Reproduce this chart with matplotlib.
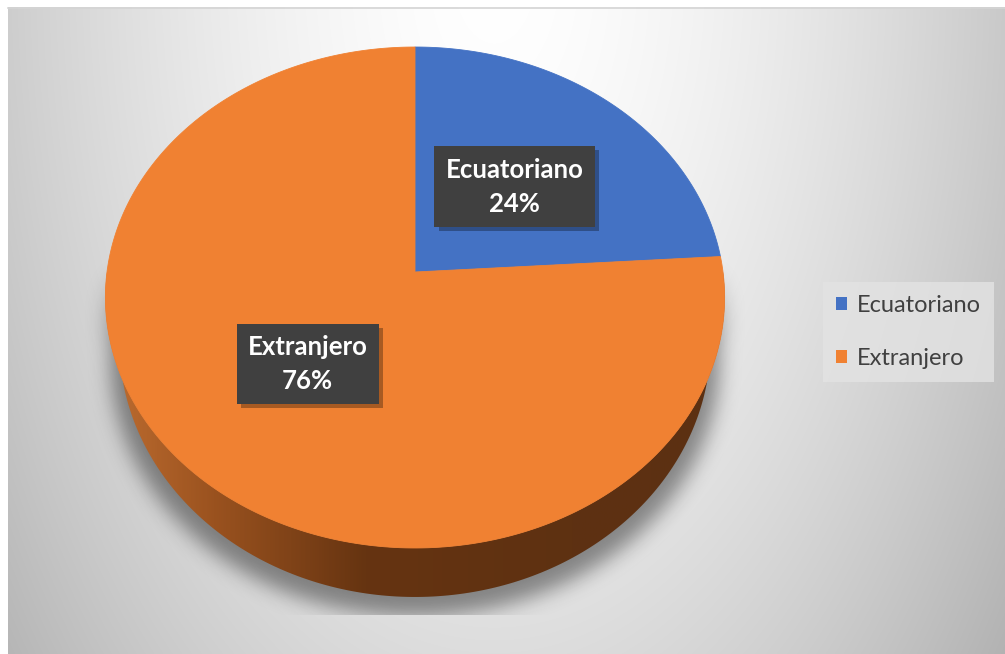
import numpy as np
import matplotlib
matplotlib.use("Agg")
import matplotlib.pyplot as plt
import matplotlib.patheffects as pe
from matplotlib.patches import Polygon, Patch, Rectangle
from matplotlib.colors import LinearSegmentedColormap
from matplotlib.path import Path

# ── data ──────────────────────────────────────────────────────────────────────
categories = ["Ecuatoriano", "Extranjero"]
shares = [24, 76]                      # percent
colors = ["#4472C4", "#F08132"]

W, H = 1005, 654

# 3-D pie geometry in pixel space (perspective tilt)
CX, CY = 415, 272          # projected pie centre
RX = 308                   # horizontal radius
PERSP_A, PERSP_C = -220.2, 0.1018
DEPTH = 44
BOTTOM_SHRINK = 0.955


def project(u, v, depth=0.0, shrink=1.0):
    w = 1 + PERSP_C * v
    x = CX + shrink * RX * u / w
    y = (PERSP_A * v + CY) / w + depth / w
    return x, y


def rim(t0, t1, n=200, depth=0.0, shrink=1.0):
    t = np.radians(np.linspace(t0, t1, n))
    return project(np.cos(t), np.sin(t), depth, shrink)


def blur(img, sigma):
    r = int(3 * sigma)
    k = np.exp(-0.5 * (np.arange(-r, r + 1) / sigma) ** 2)
    k /= k.sum()
    out = np.pad(img, r, mode="edge")
    acc = np.zeros_like(img)
    for i, kv in enumerate(k):
        acc += kv * out[r:-r, i:i + img.shape[1]]
    out = np.pad(acc, r, mode="edge")
    acc2 = np.zeros_like(img)
    for i, kv in enumerate(k):
        acc2 += kv * out[i:i + img.shape[0], r:-r]
    return acc2


fig = plt.figure(figsize=(W / 100, H / 100), dpi=100)
ax = fig.add_axes([0, 0, 1, 1])
ax.set_xlim(0, W)
ax.set_ylim(H, 0)
ax.axis("off")

# ── background: soft radial grey ──────────────────────────────────────────────
yy, xx = np.mgrid[0:H, 0:W]
r = np.sqrt(((xx - 490) / 560.0) ** 2 + ((yy + 40) / 1000.0) ** 2)
bg = 1 - 0.24 * np.clip(r, 0, 1.3) ** 1.6
ax.imshow(np.dstack([bg] * 3), extent=[8, W, H, 7], zorder=0, interpolation="bilinear")
ax.plot([8, W], [7.5, 7.5], color="#d4d4d4", lw=1.2, zorder=1)

# ── shadow under the pie (fades in towards the lower half) ───────────────────
tx, ty = rim(0, 360, 400)
bx, by = rim(0, 360, 400, DEPTH + 10, BOTTOM_SHRINK * 1.03)
pts = np.column_stack([xx.ravel() + 0.5, yy.ravel() + 0.5])
mask = (Path(np.column_stack([tx, ty + 6])).contains_points(pts) |
        Path(np.column_stack([bx, by + 8])).contains_points(pts)).reshape(H, W)
sh = blur(mask.astype(float), 10)
ramp = np.clip((yy - 250) / 110.0, 0, 1)
ramp = ramp * ramp * (3 - 2 * ramp)
shadow = np.zeros((H, W, 4))
shadow[..., 3] = 0.42 * sh * ramp
sh_img = ax.imshow(shadow, extent=[0, W, H, 0], zorder=2, interpolation="bilinear")
sh_img.set_clip_path(Rectangle((85, 0), 660, 615, transform=ax.transData))

# ── pie side (front half) ─────────────────────────────────────────────────────
stx, sty = rim(180, 360)
sbx, sby = rim(360, 180, depth=DEPTH, shrink=BOTTOM_SHRINK)
side = Polygon(np.column_stack([np.r_[stx, sbx], np.r_[sty, sby]]),
               closed=True, facecolor="none", edgecolor="none", zorder=3)
ax.add_patch(side)
side_cmap = LinearSegmentedColormap.from_list(
    "side", [(0.0, "#c06e31"), (0.18, "#9a521f"), (0.42, "#663411"),
             (0.75, "#5e3112"), (1.0, "#5c3012")])
grad = np.linspace(0, 1, 400)[None, :]
side_img = ax.imshow(grad, cmap=side_cmap, extent=[100, 730, 610, 260],
                     aspect="auto", zorder=3, interpolation="bilinear")
side_img.set_clip_path(side)

# ── pie top face ──────────────────────────────────────────────────────────────
start = 90.0
label_pos = []
for share, col in zip(shares, colors):
    sweep = 360.0 * share / sum(shares)
    ax_, ay_ = rim(start, start - sweep, 300)
    poly = np.column_stack([np.r_[CX, ax_], np.r_[CY, ay_]])
    ax.add_patch(Polygon(poly, closed=True, facecolor=col, edgecolor=col,
                         lw=0.6, zorder=4))
    mid = np.radians(start - sweep / 2)
    label_pos.append(project(0.49 * np.cos(mid), 0.49 * np.sin(mid)))
    start -= sweep

# ── data labels (dark callout boxes with a drop shadow) ──────────────────────
for (lx, ly), name, share in zip(label_pos, categories, shares):
    t = ax.text(lx, ly, f"{name}\n{share}%", ha="center", va="center",
                fontsize=18.5, family="Lato", weight="bold", color="white",
                linespacing=1.5, zorder=6,
                bbox=dict(boxstyle="square,pad=0.44", facecolor="#404040",
                          edgecolor="none"))
    t.get_bbox_patch().set_path_effects(
        [pe.withSimplePatchShadow(offset=(3, -3), shadow_rgbFace="black", alpha=0.3)])

# ── legend ────────────────────────────────────────────────────────────────────
handles = [Patch(facecolor=c, edgecolor="none", label=n) for c, n in zip(colors, categories)]
leg = fig.legend(handles=handles, loc="upper left",
                 bbox_to_anchor=(823 / W, 1 - 282 / H), borderaxespad=0,
                 frameon=True, fancybox=False,
                 prop={"family": "Lato", "size": 17},
                 handlelength=0.45, handleheight=0.45, handletextpad=0.45,
                 labelspacing=1.35, borderpad=0.55)
leg.get_frame().set_facecolor("#e3e3e3")
leg.get_frame().set_edgecolor("none")
for txt in leg.get_texts():
    txt.set_color("#404040")

fig.savefig("out.png", dpi=100)
